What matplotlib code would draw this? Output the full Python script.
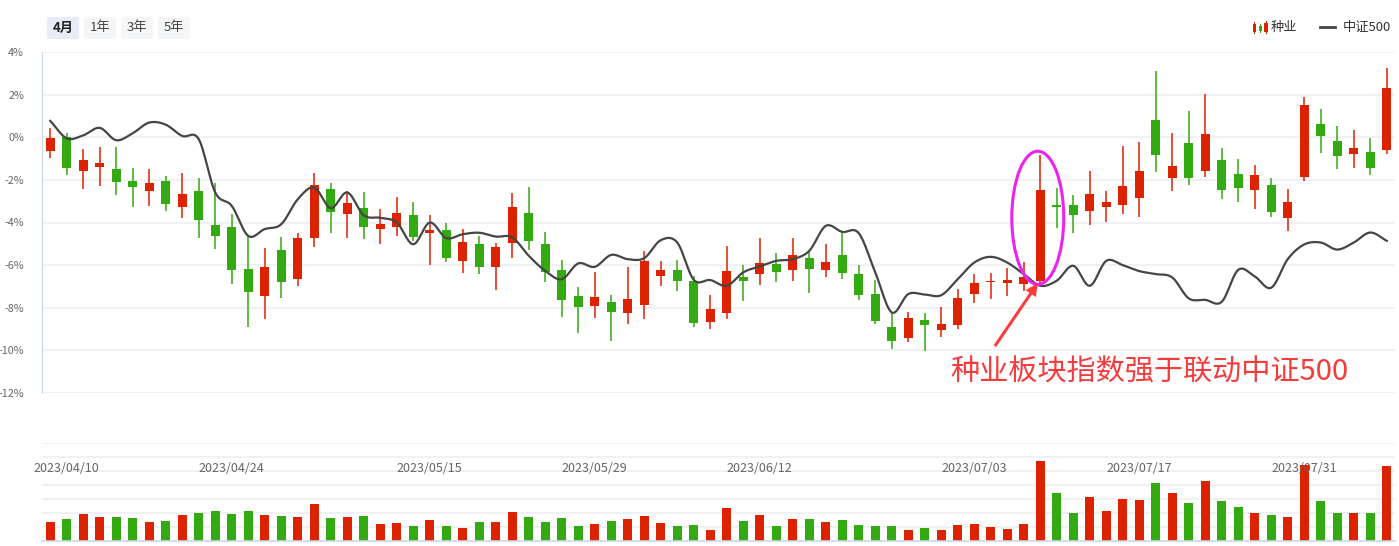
import numpy as np
import matplotlib.pyplot as plt
from matplotlib.patches import Rectangle, Ellipse, FancyBboxPatch
from matplotlib.transforms import blended_transform_factory

plt.rcParams['font.family'] = ['Noto Sans CJK SC', 'DejaVu Sans']

# ---- data (percent change vs. start) ----
opens = [-0.64, 0.03, -1.58, -1.38, -1.50, -2.06, -2.52, -2.06, -3.27, -2.53,
         -4.13, -4.22, -6.19, -7.44, -5.30, -6.64, -4.72, -2.44, -3.59, -3.33,
         -4.30, -4.20, -3.66, -4.48, -4.36, -5.80, -5.02, -6.08, -4.95, -3.56,
         -5.02, -6.23, -7.45, -7.91, -7.73, -8.23, -7.86, -6.50, -6.23, -6.75,
         -8.66, -8.23, -6.56, -6.41, -5.95, -6.22, -5.67, -6.22, -5.53, -6.42,
         -7.36, -8.89, -9.41, -8.58, -9.03, -8.80, -7.34, -6.78, -6.83, -6.88,
         -6.73, -3.19, -3.19, -3.45, -3.27, -3.17, -2.84, 0.80, -1.91, -0.28,
         -1.58, -1.08, -1.73, -2.47, -2.25, -3.78, -1.86, 0.61, -0.19, -0.78,
         -0.70, -0.59]
highs = [0.45, 0.22, -0.53, -0.44, -0.44, -1.45, -1.50, -1.83, -1.69, -1.92,
         -2.16, -3.61, -4.63, -5.20, -4.69, -4.50, -1.69, -2.16, -2.53, -2.58,
         -3.38, -2.81, -3.05, -3.66, -4.03, -4.31, -4.64, -4.97, -2.63, -2.34,
         -4.45, -5.77, -7.03, -6.33, -7.41, -6.09, -5.34, -5.81, -5.77, -6.52,
         -7.41, -5.11, -6.00, -4.73, -5.44, -4.73, -5.39, -5.02, -4.50, -6.00,
         -6.69, -8.23, -8.19, -8.23, -7.95, -7.11, -6.41, -6.36, -6.13, -5.84,
         -0.81, -2.36, -2.72, -1.59, -2.53, -0.42, -0.23, 3.09, 0.19, 1.22,
         2.02, -0.52, -1.03, -1.31, -1.92, -2.44, 1.88, 1.31, 0.52, 0.33,
         -0.05, 3.23]
lows = [-0.98, -1.77, -2.42, -2.28, -2.70, -3.27, -3.22, -3.45, -3.78, -4.72,
        -5.23, -6.88, -8.89, -8.52, -7.53, -6.97, -5.14, -4.48, -4.72, -4.77,
        -5.00, -4.63, -4.86, -5.98, -5.84, -6.36, -6.41, -7.16, -5.66, -5.28,
        -6.78, -8.42, -9.17, -8.47, -9.55, -8.75, -8.52, -6.97, -7.20, -8.89,
        -8.98, -8.52, -7.67, -6.92, -6.78, -6.73, -7.30, -6.55, -6.64, -7.63,
        -8.75, -9.95, -9.59, -10.02, -9.36, -8.98, -7.77, -7.58, -7.44, -7.20,
        -6.97, -4.27, -4.48, -4.11, -3.97, -3.59, -3.73, -1.63, -2.52, -2.23,
        -1.86, -2.89, -3.03, -3.36, -3.73, -4.39, -2.05, -0.73, -1.48, -1.44,
        -1.77, -0.78]
closes = [-0.02, -1.44, -1.08, -1.22, -2.09, -2.33, -2.16, -3.13, -2.67, -3.88,
          -4.63, -6.22, -7.25, -6.09, -6.78, -4.73, -2.25, -3.50, -3.09, -4.20,
          -4.08, -3.56, -4.67, -4.36, -5.66, -4.92, -6.08, -5.16, -3.28, -4.86,
          -6.31, -7.63, -7.95, -7.50, -8.19, -7.59, -5.81, -6.23, -6.73, -8.70,
          -8.06, -6.28, -6.73, -5.91, -6.31, -5.53, -6.17, -5.86, -6.36, -7.39,
          -8.61, -9.55, -8.47, -8.80, -8.77, -7.55, -6.84, -6.73, -6.69, -6.56,
          -2.48, -3.25, -3.64, -2.67, -3.05, -2.30, -1.59, -0.83, -1.36, -1.91,
          0.14, -2.47, -2.38, -1.78, -3.50, -3.05, 1.50, 0.06, -0.88, -0.52,
          -1.44, 2.30]
csi500 = [0.77, -0.05, 0.09, 0.44, -0.14, 0.19, 0.69, 0.59, 0.06, -0.09,
          -2.59, -3.22, -4.63, -4.31, -4.08, -2.91, -2.36, -3.33, -2.59, -3.66,
          -3.78, -4.00, -5.02, -4.00, -4.73, -4.55, -4.48, -4.66, -4.70, -5.56,
          -6.27, -6.66, -5.92, -6.08, -5.52, -5.72, -5.67, -4.83, -4.94, -6.69,
          -6.70, -6.97, -6.34, -6.06, -5.80, -5.72, -5.33, -4.16, -4.44, -4.50,
          -6.34, -8.22, -7.36, -7.38, -7.41, -6.66, -5.88, -5.61, -5.88, -6.42,
          -6.97, -6.73, -6.03, -6.97, -5.80, -6.00, -6.28, -6.42, -6.58, -7.56,
          -7.63, -7.72, -6.22, -6.53, -7.06, -5.72, -5.03, -4.94, -5.27, -4.94,
          -4.47, -4.86]
volume = [19, 22, 27, 24, 24, 23, 19, 20, 26, 28, 30, 27, 30, 26, 25, 24, 37, 23, 24, 25,
          17, 18, 15, 21, 15, 13, 19, 19, 29, 24, 19, 23, 15, 17, 20, 22, 25, 18, 15, 16,
          11, 33, 20, 26, 15, 22, 22, 19, 21, 16, 15, 15, 11, 13, 11, 16, 17, 14, 12, 17,
          80, 48, 28, 44, 30, 42, 41, 58, 48, 38, 60, 40, 34, 28, 26, 24, 76, 40, 28, 28,
          28, 75]
date_pos = [1, 11, 23, 33, 43, 56, 66, 76]
date_labels = ['2023/04/10', '2023/04/24', '2023/05/15', '2023/05/29',
               '2023/06/12', '2023/07/03', '2023/07/17', '2023/07/31']

RED = '#dd2200'
GREEN = '#33aa11'
GRID = '#f0f1f4'
AXIS = '#ccd6eb'

W, H = 1399, 546
fig = plt.figure(figsize=(W / 100, H / 100), dpi=100)


def fx(px):
    return px / W


def fy(py):
    return 1 - py / H


ax = fig.add_axes([fx(42), fy(393), fx(1395) - fx(42), fy(52) - fy(393)])
axv = fig.add_axes([fx(42), fy(541), fx(1395) - fx(42), fy(443) - fy(541)])

n = len(opens)
x = np.arange(n)
colors = [RED if c >= o else GREEN for o, c in zip(opens, closes)]

# candles
ax.vlines(x, lows, highs, colors=colors, lw=1.1, zorder=2)
body_lo = np.minimum(opens, closes)
body_h = np.maximum(np.abs(np.array(closes) - np.array(opens)), 0.05)
ax.bar(x, body_h, bottom=body_lo, width=0.55, color=colors, zorder=3)


# smooth line (cubic hermite through the read points)
def smooth(xv, yv, k=12):
    xv = np.asarray(xv, float)
    yv = np.asarray(yv, float)
    m = np.gradient(yv, xv)
    xs, ys = [], []
    for j in range(len(xv) - 1):
        t = np.linspace(0, 1, k, endpoint=False)
        h = xv[j + 1] - xv[j]
        h00 = 2 * t**3 - 3 * t**2 + 1
        h10 = t**3 - 2 * t**2 + t
        h01 = -2 * t**3 + 3 * t**2
        h11 = t**3 - t**2
        xs.append(xv[j] + t * h)
        ys.append(h00 * yv[j] + h10 * h * m[j] + h01 * yv[j + 1] + h11 * h * m[j + 1])
    xs.append([xv[-1]])
    ys.append([yv[-1]])
    return np.concatenate(xs), np.concatenate(ys)


lx, ly = smooth(x, csi500)
ax.plot(lx, ly, color='#454545', lw=1.6, zorder=4)

ax.set_xlim(-0.5, n - 0.5)
ax.set_ylim(-12, 4)
ax.set_yticks(np.arange(-12, 5, 2))
ax.set_yticklabels([f'{v}%' for v in range(-12, 5, 2)])
ax.set_xticks([])
ax.grid(axis='y', color=GRID, lw=1.5)
ax.set_axisbelow(True)
ax.tick_params(axis='y', length=0, pad=13, labelsize=7.8, labelcolor='#666666')
for s in ['top', 'right', 'bottom']:
    ax.spines[s].set_visible(False)
ax.spines['left'].set_color(AXIS)

# annotation
ax.add_patch(Ellipse((59.85, -3.78), 3.15, 6.25, fill=False, ec='#ee22ee', lw=2.2, zorder=6))
ax.annotate('', xy=(59.85, -6.85), xytext=(57.25, -9.8),
            arrowprops=dict(arrowstyle='simple,head_length=0.9,head_width=0.9,tail_width=0.22',
                            color='#fa3c3c', lw=0, shrinkA=0, shrinkB=0), zorder=6)
ax.text(54.55, -11.05, '种业板块指数强于联动中证500', color='#f53b3b', fontsize=21,
        ha='left', va='center', zorder=6, clip_on=False)

# volume
axv.bar(x, volume, width=0.55, color=colors)
axv.set_xlim(-0.5, n - 0.5)
axv.set_ylim(0, 98)
axv.set_yticks(np.arange(14, 99, 14))
axv.set_xticks([])
axv.set_yticklabels([])
axv.tick_params(length=0)
axv.grid(axis='y', color=GRID, lw=1.5)
axv.set_axisbelow(True)
for s in ['top', 'right', 'left']:
    axv.spines[s].set_visible(False)
axv.spines['bottom'].set_color(AXIS)
axv.spines['bottom'].set_linewidth(1.2)
tr = blended_transform_factory(axv.transData, axv.transAxes)
for p, lab in zip(date_pos, date_labels):
    axv.text(p, 0.735, lab, transform=tr, ha='center', va='center',
             fontsize=9, color='#666666', zorder=5)

# period buttons
buttons = [('4月', 47, True), ('1年', 84, False), ('3年', 121, False), ('5年', 158, False)]
for lab, bx, sel in buttons:
    fig.add_artist(FancyBboxPatch((fx(bx), fy(39)), fx(32), fy(17) - fy(39),
                                  boxstyle='round,pad=0,rounding_size=0.002',
                                  transform=fig.transFigure,
                                  fc='#e7ecf7' if sel else '#f5f6f8', ec='none'))
    fig.text(fx(bx + 16), fy(28), lab, ha='center', va='center', fontsize=9.5,
             color='#222222' if sel else '#444444',
             fontweight='bold' if sel else 'normal')

# legend
for cx, col, top, bot, wt, wb in [(1254.5, RED, 24, 32, 22, 34),
                                  (1260.5, GREEN, 26, 31, 24, 33),
                                  (1266, RED, 23, 32, 21, 34)]:
    fig.add_artist(Rectangle((fx(cx - 0.5), fy(wb)), fx(1), fy(wt) - fy(wb),
                             transform=fig.transFigure, color=col, lw=0))
    fig.add_artist(Rectangle((fx(cx - 1.8), fy(bot)), fx(3.6), fy(top) - fy(bot),
                             transform=fig.transFigure, color=col, lw=0))
fig.text(fx(1271), fy(27.5), '种业', ha='left', va='center', fontsize=9.5, color='#333333')
fig.add_artist(plt.Line2D([fx(1320), fx(1335)], [fy(27), fy(27)], color='#454545', lw=2))
fig.text(fx(1343), fy(27.5), '中证500', ha='left', va='center', fontsize=9.5, color='#333333')

fig.savefig('out.png', dpi=100)
